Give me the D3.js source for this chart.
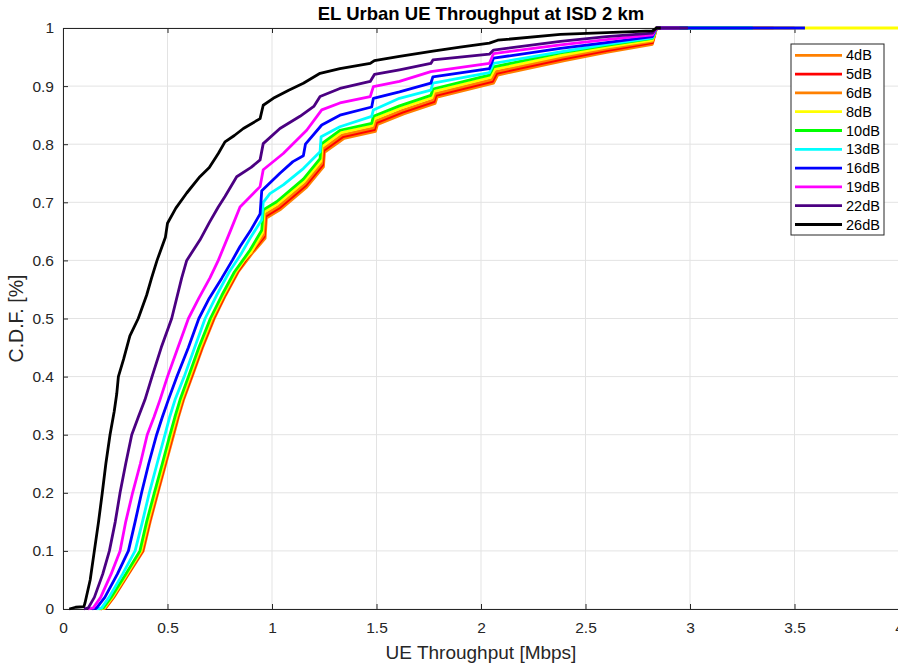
<!DOCTYPE html>
<html>
<head>
<meta charset="utf-8">
<script src="https://cdn.jsdelivr.net/npm/d3@7"></script>
<style>
  body { margin: 0; background: #fff; }
  svg { display: block; font-family: "Liberation Sans", Arial, sans-serif; }
</style>
</head>
<body>
<div id="chart"></div>
<script>
// series names and colours (legend order = draw order)
const seriesNames = ["4dB", "5dB", "6dB", "8dB", "10dB", "13dB", "16dB", "19dB", "22dB", "26dB"];
const seriesColors = ["#ff8000", "#ff0000", "#ff8000", "#ffff00", "#00ff00", "#00ffff", "#0000ff", "#ff00ff", "#4b0082", "#000000"];

const xTicks = [0, 0.5, 1, 1.5, 2, 2.5, 3, 3.5, 4];
const yTicks = [0, 0.1, 0.2, 0.3, 0.4, 0.5, 0.6, 0.7, 0.8, 0.9, 1];

// CDF points [throughput Mbps, cdf]
const cdf4 = [[0.182,0],[0.205,0.002],[0.243,0.02],[0.313,0.06],[0.384,0.1],[0.417,0.15],[0.454,0.2],[0.492,0.25],[0.53,0.3],[0.552,0.33],[0.577,0.36],[0.618,0.4],[0.668,0.45],[0.724,0.5],[0.778,0.54],[0.838,0.58],[0.875,0.598],[0.905,0.612],[0.967,0.638],[0.973,0.673],[1.038,0.687],[1.166,0.726],[1.246,0.761],[1.251,0.786],[1.345,0.81],[1.495,0.822],[1.505,0.834],[1.63,0.852],[1.78,0.87],[1.79,0.881],[2.06,0.905],[2.08,0.919],[2.4,0.944],[2.6,0.958],[2.82,0.972],[2.84,1.0],[3.2,1.0]];
const cdf5 = [[0.18,0],[0.202,0.002],[0.24,0.02],[0.31,0.06],[0.38,0.1],[0.413,0.15],[0.45,0.2],[0.488,0.25],[0.525,0.3],[0.548,0.33],[0.573,0.36],[0.614,0.4],[0.664,0.45],[0.72,0.5],[0.774,0.54],[0.834,0.58],[0.872,0.6],[0.902,0.614],[0.963,0.641],[0.969,0.676],[1.034,0.69],[1.162,0.729],[1.242,0.764],[1.247,0.789],[1.34,0.813],[1.49,0.825],[1.5,0.837],[1.625,0.855],[1.775,0.873],[1.785,0.884],[2.055,0.908],[2.075,0.922],[2.395,0.947],[2.6,0.961],[2.82,0.975],[2.84,1.0],[3.4,1.0]];
const cdf6 = [[0.178,0],[0.2,0.002],[0.238,0.02],[0.308,0.06],[0.377,0.1],[0.41,0.15],[0.447,0.2],[0.485,0.25],[0.522,0.3],[0.545,0.33],[0.57,0.36],[0.61,0.4],[0.66,0.45],[0.716,0.5],[0.77,0.54],[0.83,0.58],[0.868,0.601],[0.9,0.615],[0.96,0.644],[0.966,0.679],[1.03,0.693],[1.158,0.732],[1.238,0.767],[1.243,0.792],[1.335,0.816],[1.485,0.828],[1.495,0.84],[1.62,0.858],[1.77,0.876],[1.78,0.887],[2.05,0.911],[2.07,0.925],[2.39,0.95],[2.6,0.964],[2.82,0.977],[2.84,1.0],[3.5,1.0]];
const cdf8 = [[0.175,0],[0.198,0.002],[0.235,0.02],[0.305,0.06],[0.373,0.1],[0.406,0.15],[0.443,0.2],[0.481,0.25],[0.518,0.3],[0.541,0.33],[0.566,0.36],[0.606,0.4],[0.656,0.45],[0.711,0.5],[0.766,0.54],[0.826,0.58],[0.866,0.6],[0.9,0.614],[0.955,0.648],[0.962,0.683],[1.026,0.697],[1.154,0.736],[1.234,0.771],[1.239,0.796],[1.33,0.82],[1.48,0.832],[1.49,0.844],[1.615,0.862],[1.765,0.88],[1.775,0.891],[2.045,0.915],[2.065,0.929],[2.385,0.953],[2.6,0.967],[2.82,0.979],[2.84,1.0],[4.2,1.0]];
const cdf10 = [[0.17,0],[0.193,0.002],[0.23,0.02],[0.3,0.06],[0.368,0.1],[0.4,0.15],[0.437,0.2],[0.475,0.25],[0.512,0.3],[0.535,0.33],[0.56,0.36],[0.6,0.4],[0.65,0.45],[0.705,0.5],[0.76,0.54],[0.82,0.58],[0.86,0.6],[0.895,0.618],[0.951,0.652],[0.958,0.687],[1.022,0.701],[1.15,0.74],[1.23,0.775],[1.235,0.8],[1.325,0.824],[1.477,0.836],[1.485,0.848],[1.61,0.866],[1.76,0.884],[1.77,0.895],[2.04,0.919],[2.06,0.933],[2.38,0.957],[2.6,0.97],[2.82,0.982],[2.84,1.0],[3.3,1.0]];
const cdf13 = [[0.16,0],[0.185,0.002],[0.22,0.02],[0.285,0.06],[0.345,0.1],[0.38,0.15],[0.413,0.2],[0.45,0.25],[0.488,0.3],[0.51,0.33],[0.536,0.36],[0.58,0.4],[0.63,0.45],[0.68,0.5],[0.735,0.54],[0.795,0.58],[0.85,0.61],[0.895,0.638],[0.951,0.67],[0.958,0.7],[0.99,0.715],[1.054,0.73],[1.15,0.758],[1.23,0.787],[1.235,0.813],[1.325,0.83],[1.477,0.848],[1.485,0.859],[1.61,0.879],[1.76,0.893],[1.77,0.905],[2.04,0.923],[2.06,0.939],[2.38,0.959],[2.6,0.972],[2.82,0.983],[2.84,1.0],[3.3,1.0]];
const cdf16 = [[0.14,0],[0.161,0.002],[0.2,0.02],[0.26,0.06],[0.313,0.1],[0.345,0.15],[0.376,0.2],[0.41,0.25],[0.448,0.3],[0.475,0.33],[0.504,0.36],[0.545,0.4],[0.6,0.45],[0.65,0.5],[0.7,0.535],[0.759,0.569],[0.81,0.6],[0.847,0.624],[0.895,0.65],[0.943,0.68],[0.951,0.72],[1.038,0.75],[1.1,0.77],[1.15,0.78],[1.16,0.8],[1.238,0.833],[1.325,0.85],[1.477,0.864],[1.485,0.879],[1.61,0.89],[1.76,0.905],[1.77,0.916],[2.04,0.93],[2.06,0.948],[2.38,0.965],[2.6,0.975],[2.82,0.985],[2.84,1.0],[3.55,1.0]];
const cdf19 = [[0.12,0],[0.145,0.002],[0.18,0.02],[0.23,0.06],[0.273,0.1],[0.3,0.15],[0.333,0.2],[0.37,0.25],[0.403,0.3],[0.435,0.33],[0.464,0.36],[0.5,0.4],[0.55,0.45],[0.6,0.5],[0.65,0.535],[0.703,0.57],[0.743,0.6],[0.8,0.65],[0.847,0.692],[0.943,0.727],[0.958,0.756],[1.054,0.784],[1.166,0.824],[1.238,0.859],[1.325,0.871],[1.47,0.882],[1.485,0.899],[1.61,0.908],[1.76,0.925],[2.04,0.939],[2.06,0.956],[2.38,0.971],[2.6,0.98],[2.82,0.988],[2.84,1.0],[2.95,1.0]];
const cdf22 = [[0.1,0],[0.121,0.002],[0.15,0.02],[0.19,0.06],[0.222,0.1],[0.25,0.15],[0.273,0.2],[0.3,0.25],[0.329,0.3],[0.36,0.33],[0.392,0.36],[0.426,0.4],[0.47,0.45],[0.52,0.5],[0.568,0.57],[0.592,0.6],[0.655,0.635],[0.7,0.665],[0.743,0.692],[0.775,0.71],[0.831,0.744],[0.9,0.76],[0.943,0.773],[0.958,0.801],[1.038,0.827],[1.134,0.848],[1.2,0.865],[1.23,0.882],[1.325,0.896],[1.47,0.908],[1.49,0.92],[1.61,0.928],[1.76,0.939],[1.77,0.945],[2.04,0.955],[2.06,0.962],[2.38,0.977],[2.6,0.985],[2.82,0.991],[2.84,1.0],[2.99,1.0]];
const cdf26 = [[0.03,0],[0.06,0.003],[0.1,0.004],[0.105,0.01],[0.13,0.05],[0.15,0.1],[0.17,0.15],[0.188,0.2],[0.205,0.25],[0.225,0.3],[0.245,0.34],[0.257,0.37],[0.265,0.4],[0.29,0.43],[0.32,0.47],[0.36,0.5],[0.4,0.54],[0.424,0.57],[0.45,0.6],[0.49,0.64],[0.5,0.664],[0.54,0.69],[0.592,0.716],[0.655,0.744],[0.7,0.76],[0.743,0.784],[0.775,0.804],[0.82,0.815],[0.863,0.827],[0.943,0.844],[0.958,0.867],[1.006,0.879],[1.08,0.893],[1.15,0.905],[1.23,0.922],[1.325,0.93],[1.47,0.939],[1.49,0.944],[1.61,0.951],[1.77,0.96],[1.9,0.967],[2.04,0.974],[2.08,0.979],[2.38,0.989],[2.6,0.992],[2.82,0.995],[2.84,1.0],[2.86,1.0]];

const seriesData = [cdf4, cdf5, cdf6, cdf8, cdf10, cdf13, cdf16, cdf19, cdf22, cdf26];

const margin = { top: 28, right: -1, bottom: 57, left: 63 },
      width = 898 - margin.left - margin.right,
      height = 666 - margin.top - margin.bottom;

const axisColor = "#262626";

const root = d3.select("#chart")
    .append("svg")
    .attr("width", 898)
    .attr("height", 666);

const svg = root.append("g")
    .attr("transform", `translate(${margin.left},${margin.top})`);

const x = d3.scaleLinear().domain([0, 4]).range([0, width]);
const y = d3.scaleLinear().domain([0, 1]).range([height, 0]);

// Lưới
svg.append("g")
    .selectAll("line.gx")
    .data(xTicks)
    .enter()
    .append("line")
    .attr("x1", d => x(d)).attr("x2", d => x(d))
    .attr("y1", 0).attr("y2", height)
    .attr("stroke", "#e3e3e3").attr("stroke-width", 1);

svg.append("g")
    .selectAll("line.gy")
    .data(yTicks)
    .enter()
    .append("line")
    .attr("x1", 0).attr("x2", width)
    .attr("y1", d => y(d)).attr("y2", d => y(d))
    .attr("stroke", "#e3e3e3").attr("stroke-width", 1);

// Trục
const xAxis = svg.append("g")
    .attr("transform", `translate(0,${height})`)
    .call(d3.axisBottom(x).tickValues(xTicks).tickSize(-5).tickPadding(13).tickFormat(d3.format("")));

const yAxis = svg.append("g")
    .call(d3.axisLeft(y).tickValues(yTicks).tickSize(-5).tickPadding(9).tickFormat(d3.format("")));

svg.append("g")
    .call(d3.axisTop(x).tickValues(xTicks).tickSize(-5).tickFormat(""));

[xAxis, yAxis].forEach(a => {
    a.selectAll("text").style("font-size", "15.5px").attr("fill", axisColor);
});
svg.selectAll(".domain, .tick line").attr("stroke", axisColor);

// Đường CDF (vẽ sau trục, như MATLAB)
svg.append("defs").append("clipPath")
    .attr("id", "plotclip")
    .append("rect")
    .attr("x", 0).attr("y", -3)
    .attr("width", width).attr("height", height + 6);

const line = d3.line()
    .x(d => x(d[0]))
    .y(d => y(d[1]));

svg.append("g")
    .attr("clip-path", "url(#plotclip)")
    .selectAll("path")
    .data(seriesData)
    .enter()
    .append("path")
    .attr("d", line)
    .attr("fill", "none")
    .attr("stroke", (d, i) => seriesColors[i])
    .attr("stroke-width", 2.8)
    .attr("stroke-linejoin", "round");

// Tiêu đề và nhãn trục
svg.append("text")
    .attr("x", width / 2)
    .attr("y", -8)
    .attr("text-anchor", "middle")
    .style("font-size", "18.5px")
    .style("font-weight", "bold")
    .attr("fill", "#000")
    .text("EL Urban UE Throughput at ISD 2 km");

svg.append("text")
    .attr("x", width / 2)
    .attr("y", height + 50)
    .attr("text-anchor", "middle")
    .style("font-size", "19px")
    .attr("fill", axisColor)
    .text("UE Throughput [Mbps]");

svg.append("text")
    .attr("transform", "rotate(-90)")
    .attr("x", -height / 2)
    .attr("y", -40)
    .attr("text-anchor", "middle")
    .style("font-size", "19.5px")
    .attr("fill", axisColor)
    .text("C.D.F. [%]");

// Chú giải
const legend = root.append("g").attr("transform", "translate(791,44)");
legend.append("rect")
    .attr("width", 93).attr("height", 191)
    .attr("fill", "#fff")
    .attr("stroke", axisColor).attr("stroke-width", 1);

const item = legend.selectAll("g.item")
    .data(seriesNames)
    .enter()
    .append("g")
    .attr("transform", (d, i) => `translate(0,${11.3 + i * 18.8})`);

item.append("line")
    .attr("x1", 4).attr("x2", 51)
    .attr("stroke", (d, i) => seriesColors[i])
    .attr("stroke-width", 2.8);

item.append("text")
    .attr("x", 55)
    .attr("dy", "0.35em")
    .style("font-size", "14.5px")
    .attr("fill", "#000")
    .text(d => d);
</script>
</body>
</html>
